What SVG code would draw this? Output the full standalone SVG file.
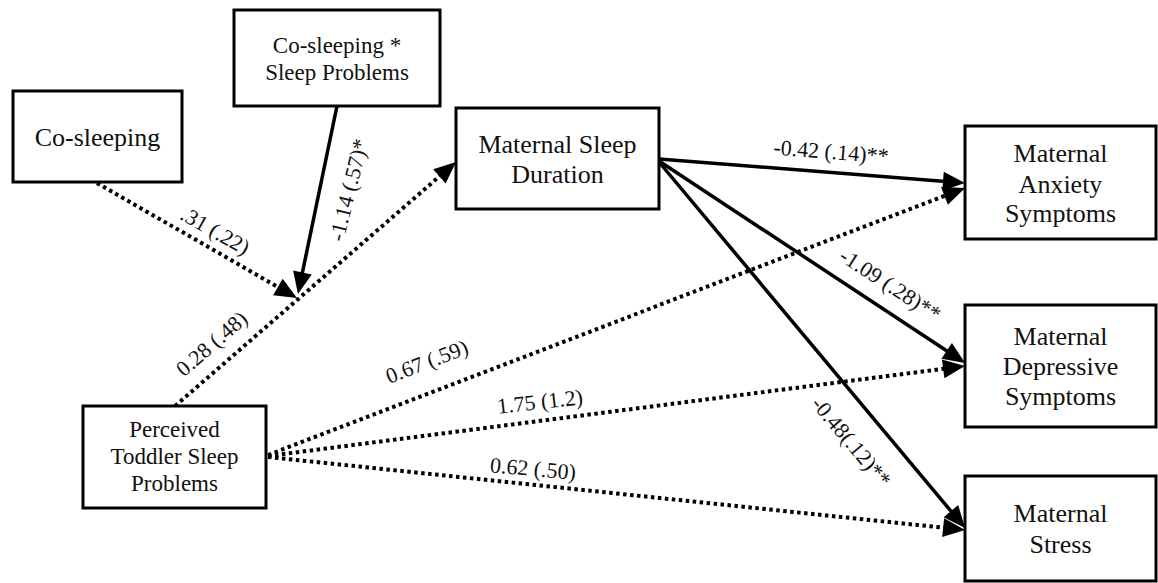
<svg xmlns="http://www.w3.org/2000/svg" width="1158" height="583" viewBox="0 0 1158 583" font-family="'Liberation Serif', 'DejaVu Serif', serif">
<style>
text{font-family:"Liberation Serif","DejaVu Serif",serif}
.box{fill:#fff;stroke:#000;stroke-width:3}
.t{fill:#111;text-anchor:middle}
.big{font-size:26px}
.sm{font-size:23px}
.lbl{fill:#111;text-anchor:middle;font-size:22px}
.solid{stroke:#000;stroke-width:3.5;fill:none;marker-end:url(#ah)}
.dot{stroke:#000;stroke-width:4;fill:none;stroke-dasharray:3.5 3.5;marker-end:url(#ah)}
</style>
<defs>
<marker id="ah" markerUnits="userSpaceOnUse" markerWidth="22" markerHeight="19" refX="9" refY="9.5" orient="auto" overflow="visible">
<path d="M0,0 L22,9.5 L0,19 z" fill="#000"/>
</marker>
</defs>
<rect width="1158" height="583" fill="#fff"/>
<g id="connectors">
<line class="dot" x1="97" y1="183" x2="285.7" y2="291.5"/>
<line class="solid" x1="337" y1="106" x2="300.6" y2="281.3"/>
<line class="dot" x1="175" y1="406" x2="446.2" y2="170.5"/>
<line class="solid" x1="659" y1="159" x2="952" y2="182"/>
<line class="solid" x1="659" y1="161" x2="954.2" y2="355.8"/>
<line class="solid" x1="659" y1="162" x2="956.7" y2="518"/>
<line class="dot" x1="268" y1="455" x2="952.9" y2="192.6"/>
<line class="dot" x1="268" y1="456" x2="952.1" y2="367.7"/>
<line class="dot" x1="268" y1="457" x2="952.1" y2="528.6"/>
</g>
<g id="labels">
<text class="lbl" transform="translate(215,231) rotate(29.5)" y="7">.31 (.22)</text>
<text class="lbl" transform="translate(349,190) rotate(-76)" y="7">-1.14 (.57)*</text>
<text class="lbl" transform="translate(212,344) rotate(-41)" y="7">0.28 (.48)</text>
<text class="lbl" transform="translate(427,362) rotate(-21)" y="7">0.67 (.59)</text>
<text class="lbl" transform="translate(540,402) rotate(-6.5)" y="7">1.75 (1.2)</text>
<text class="lbl" transform="translate(533,469) rotate(5)" y="7">0.62 (.50)</text>
<text class="lbl" transform="translate(831,152) rotate(4.5)" y="7">-0.42 (.14)**</text>
<text class="lbl" transform="translate(890,285) rotate(33)" y="7">-1.09 (.28)**</text>
<text class="lbl" transform="translate(851,442) rotate(50)" y="7">-0.48(.12)**</text>
</g>
<g id="co-sleeping">
<rect class="box" x="13" y="91" width="169" height="91"/>
<text class="t big" x="97.5" y="146">Co-sleeping</text>
</g>
<g id="interaction">
<rect class="box" x="234" y="10" width="206" height="96"/>
<text class="t sm" x="337" y="53">Co-sleeping *</text>
<text class="t sm" x="337" y="80">Sleep Problems</text>
</g>
<g id="sleep-duration">
<rect class="box" x="456" y="108" width="203" height="101"/>
<text class="t big" x="557.5" y="153">Maternal Sleep</text>
<text class="t big" x="557.5" y="183">Duration</text>
</g>
<g id="toddler-sleep">
<rect class="box" x="83" y="406" width="183" height="102"/>
<text class="t sm" x="174.5" y="437">Perceived</text>
<text class="t sm" x="174.5" y="464">Toddler Sleep</text>
<text class="t sm" x="174.5" y="491">Problems</text>
</g>
<g id="anxiety">
<rect class="box" x="965" y="126" width="191" height="113"/>
<text class="t big" x="1060.5" y="162">Maternal</text>
<text class="t big" x="1060.5" y="193">Anxiety</text>
<text class="t big" x="1060.5" y="222">Symptoms</text>
</g>
<g id="depressive">
<rect class="box" x="965" y="305" width="191" height="122"/>
<text class="t big" x="1060.5" y="345">Maternal</text>
<text class="t big" x="1060.5" y="375">Depressive</text>
<text class="t big" x="1060.5" y="405">Symptoms</text>
</g>
<g id="stress">
<rect class="box" x="965" y="476" width="191" height="105"/>
<text class="t big" x="1060.5" y="522">Maternal</text>
<text class="t big" x="1060.5" y="553">Stress</text>
</g>
</svg>
